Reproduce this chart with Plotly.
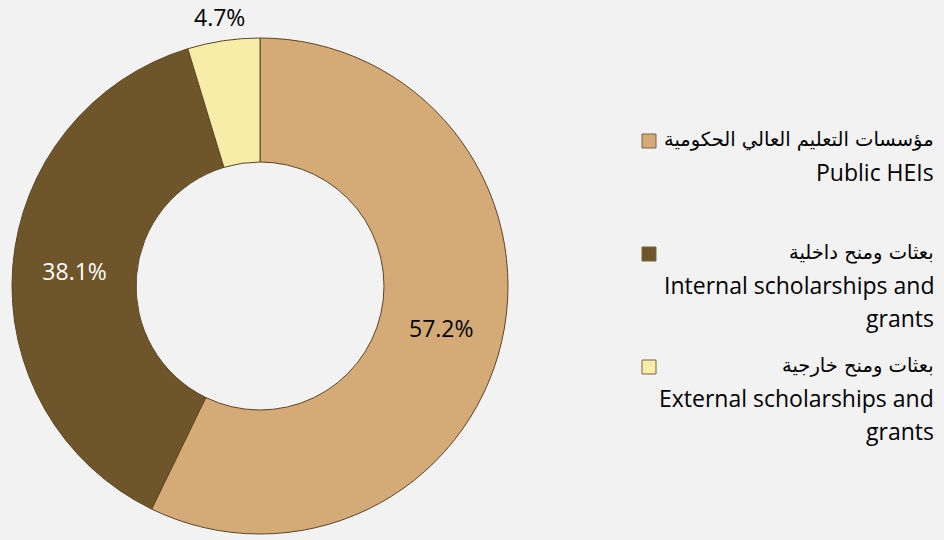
import math
import plotly.graph_objects as go

# ---- data ----
labels_ar = ["مؤسسات التعليم العالي الحكومية", "بعثات ومنح داخلية", "بعثات ومنح خارجية"]
labels_en = [["Public HEIs"], ["Internal scholarships and", "grants"], ["External scholarships and", "grants"]]
values = [57.2, 38.1, 4.7]
colors = ["#D4AA76", "#6E552A", "#F7EDA8"]
text_colors = ["#000000", "#FFFFFF", "#000000"]
text_positions = ["inside", "inside", "none"]

W, H = 944, 540
BG = "#F2F2F2"

# pie geometry (pixels)
cx, cy, R = 260, 286, 248

fig = go.Figure()
fig.add_trace(go.Pie(
    labels=[a + " " + " ".join(e) for a, e in zip(labels_ar, labels_en)],
    values=values,
    hole=0.5,
    sort=False,
    direction="clockwise",
    rotation=0,
    marker=dict(colors=colors, line=dict(color="#5a4626", width=1)),
    texttemplate="%{value:.1f}%",
    textposition=text_positions,
    insidetextorientation="horizontal",
    textfont=dict(family="Open Sans, sans-serif", size=23, color=text_colors),
    showlegend=False,
    hoverinfo="label+percent",
    domain=dict(x=[(cx - R) / W, (cx + R) / W],
                y=[(H - cy - R) / H, (H - cy + R) / H]),
))

ann = []
shapes = []

# outside label for the small slice, placed just beyond its outer edge
total = sum(values)
cum = 0.0
for i, v in enumerate(values):
    mid = (cum + v / 2) / total
    cum += v
    if text_positions[i] == "none":
        ang = 2 * math.pi * mid
        r = R + 24
        px = cx + r * math.sin(ang)
        py = cy - r * math.cos(ang)
        ann.append(dict(x=px / W, y=1 - py / H, xref="paper", yref="paper",
                        text=f"{v:.1f}%", showarrow=False, xanchor="center", yanchor="middle",
                        font=dict(family="Open Sans, sans-serif", size=23, color="#000000")))

# ---- custom legend (right-aligned text, swatch left of Arabic line) ----
text_right = 936
ar_y = [139, 252, 365]
line_gap = 33
sw_x = 649
sw = 14
for i in range(len(values)):
    y0 = ar_y[i]
    ann.append(dict(x=text_right / W, y=1 - y0 / H, xref="paper", yref="paper",
                    text=labels_ar[i], showarrow=False, xanchor="right", yanchor="middle",
                    font=dict(family="DejaVu Sans, Arial, sans-serif", size=19.5, color="#000000")))
    for j, line in enumerate(labels_en[i]):
        yy = y0 + line_gap * (j + 1)
        ann.append(dict(x=text_right / W, y=1 - yy / H, xref="paper", yref="paper",
                        text=line, showarrow=False, xanchor="right", yanchor="middle",
                        font=dict(family="Open Sans, sans-serif", size=23, color="#000000")))
    shapes.append(dict(type="rect", xref="paper", yref="paper",
                       x0=(sw_x - sw / 2) / W, x1=(sw_x + sw / 2) / W,
                       y0=1 - (y0 + 2 + sw / 2) / H, y1=1 - (y0 + 2 - sw / 2) / H,
                       fillcolor=colors[i], line=dict(color="#7a6440", width=1)))

fig.update_layout(
    width=W, height=H,
    margin=dict(l=0, r=0, t=0, b=0),
    paper_bgcolor=BG, plot_bgcolor=BG,
    annotations=ann, shapes=shapes,
)

fig.write_html("out.html",
               config={"displayModeBar": False},
               post_script="document.body.style.margin='0';document.body.style.background='#F2F2F2';")
